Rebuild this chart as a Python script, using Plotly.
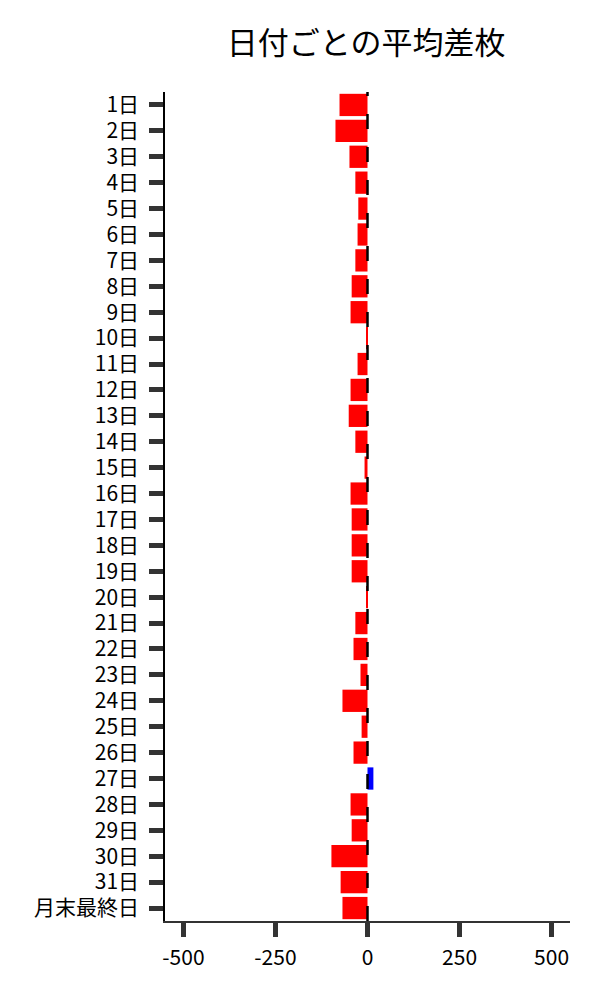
import plotly.graph_objects as go

categories = [f"{i}日" for i in range(1, 32)] + ["月末最終日"]
values = [-76, -87, -49, -33, -25, -27, -33, -43, -46, -3,
          -27, -46, -51, -33, -8, -46, -43, -43, -43, -2,
          -33, -38, -19, -68, -16, -38, 16, -46, -43, -98,
          -73, -68]
x_ticks = [-500, -250, 0, 250, 500]

colors = ["blue" if v > 0 else "red" for v in values]

FONT = "Noto Sans CJK JP"

fig = go.Figure(go.Bar(
    x=values, y=categories, orientation="h",
    marker=dict(color=colors, line=dict(width=0)),
    showlegend=False,
))

fig.add_shape(type="line", xref="x", yref="paper", x0=0, x1=0, y0=0, y1=1,
              line=dict(color="black", width=2.5, dash="15px,18px"), layer="above")

fig.update_layout(
    width=600, height=1000,
    paper_bgcolor="white", plot_bgcolor="white",
    margin=dict(l=157, r=38, t=84, b=87),
    bargap=0.14,
    font=dict(family=FONT, size=21, color="black"),
    title=dict(text="日付ごとの平均差枚", x=0.597, xanchor="center", y=0.965, yanchor="middle",
               font=dict(family=FONT, size=31, color="black")),
    xaxis=dict(range=[-550, 550], tickvals=x_ticks, ticktext=[str(t) for t in x_ticks],
               showgrid=False, zeroline=False, showline=True, linecolor="#333", linewidth=1.5,
               ticks="outside", ticklen=14, tickwidth=5, tickcolor="#333",
               ticklabelstandoff=3),
    yaxis=dict(autorange="reversed", type="category", showgrid=False, zeroline=False,
               showline=True, linecolor="black", linewidth=1.5,
               ticks="outside", ticklen=14, tickwidth=5, tickcolor="#333",
               ticklabelstandoff=6),
)

fig.write_html("out.html")
